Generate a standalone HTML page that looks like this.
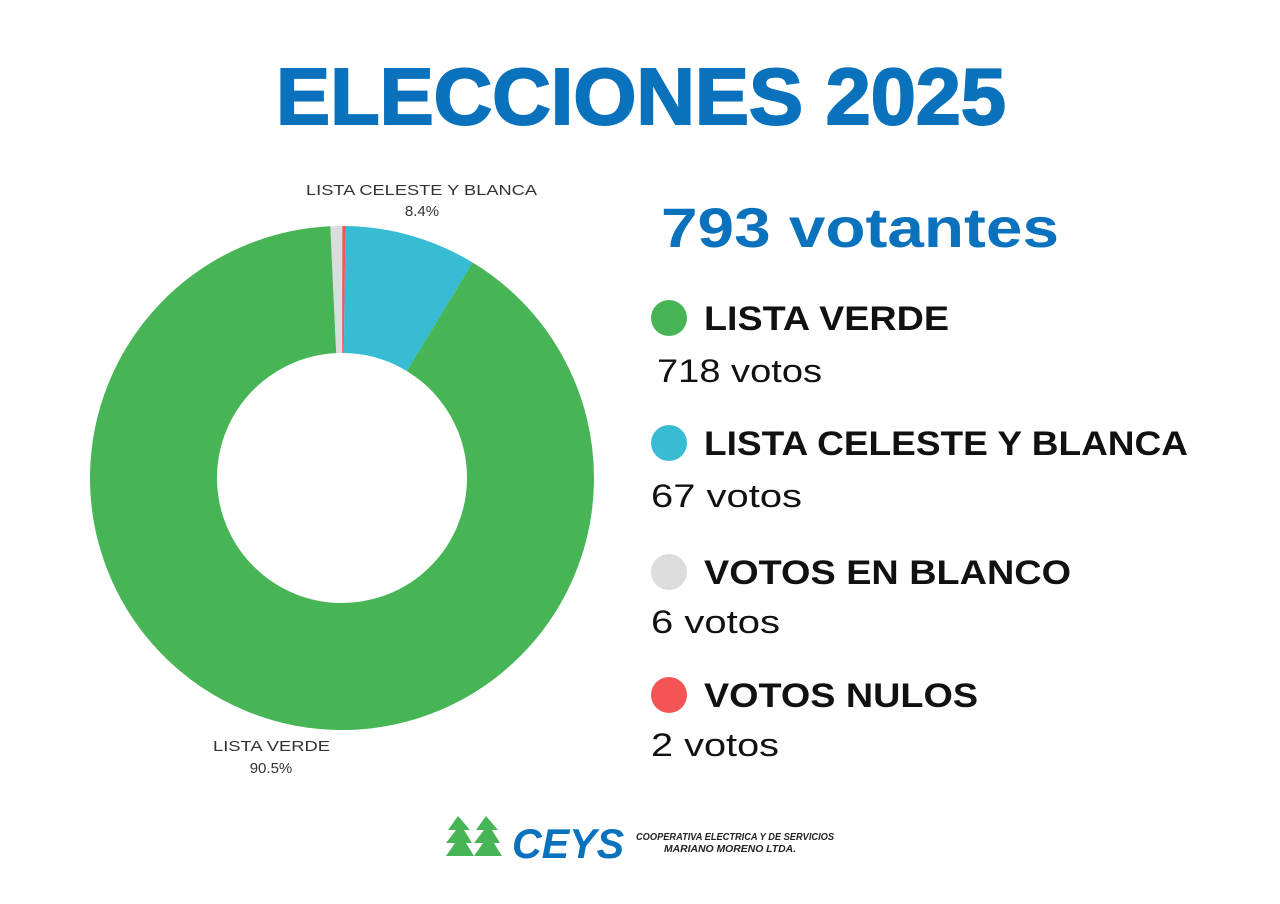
<!DOCTYPE html>
<html><head><meta charset="utf-8"><style>html,body{margin:0;padding:0;background:#fff}svg{display:block}</style></head>
<body>
<svg width="1280" height="904" viewBox="0 0 1280 904" xmlns="http://www.w3.org/2000/svg" font-family="Liberation Sans, sans-serif">
<rect width="1280" height="904" fill="#fff"/>
<text x="276" y="124" font-size="80" font-weight="bold" fill="#0a72bc" stroke="#0a72bc" stroke-width="2" textLength="730" lengthAdjust="spacingAndGlyphs">ELECCIONES 2025</text>
<g transform="translate(342,478) rotate(-89.2)" fill="none" stroke-width="127">
<circle r="188.5" stroke="#38bcd4" stroke-dasharray="100.1 1184.4"/>
<circle r="188.5" stroke="#47b555" stroke-dasharray="0 100.1 1072.4 1184.4"/>
<circle r="188.5" stroke="#dcdcdc" stroke-dasharray="0 1172.5 9 1184.4"/>
<circle r="188.5" stroke="#f45454" stroke-dasharray="0 1181.5 3 1184.4"/>
</g>
<text x="306" y="195" font-size="15" fill="#333" textLength="231" lengthAdjust="spacingAndGlyphs">LISTA CELESTE Y BLANCA</text>
<text x="422" y="216" font-size="15" fill="#333" text-anchor="middle">8.4%</text>
<text x="213" y="751" font-size="15" fill="#333" textLength="117" lengthAdjust="spacingAndGlyphs">LISTA VERDE</text>
<text x="271" y="773" font-size="15" fill="#333" text-anchor="middle">90.5%</text>
<text x="661" y="247" font-size="56" font-weight="bold" fill="#0a72bc" textLength="398" lengthAdjust="spacingAndGlyphs">793 votantes</text>
<circle cx="669" cy="318" r="18" fill="#47b555"/>
<text x="704" y="330" font-size="34" font-weight="bold" fill="#111" textLength="245" lengthAdjust="spacingAndGlyphs">LISTA VERDE</text>
<text x="657" y="382" font-size="32" fill="#111" textLength="165" lengthAdjust="spacingAndGlyphs">718 votos</text>
<circle cx="669" cy="443" r="18" fill="#38bcd4"/>
<text x="704" y="455" font-size="34" font-weight="bold" fill="#111" textLength="484" lengthAdjust="spacingAndGlyphs">LISTA CELESTE Y BLANCA</text>
<text x="651" y="507" font-size="32" fill="#111" textLength="151" lengthAdjust="spacingAndGlyphs">67 votos</text>
<circle cx="669" cy="572" r="18" fill="#dcdcdc"/>
<text x="704" y="584" font-size="34" font-weight="bold" fill="#111" textLength="367" lengthAdjust="spacingAndGlyphs">VOTOS EN BLANCO</text>
<text x="651" y="633" font-size="32" fill="#111" textLength="129" lengthAdjust="spacingAndGlyphs">6 votos</text>
<circle cx="669" cy="695" r="18" fill="#f45454"/>
<text x="704" y="707" font-size="34" font-weight="bold" fill="#111" textLength="274" lengthAdjust="spacingAndGlyphs">VOTOS NULOS</text>
<text x="651" y="756" font-size="32" fill="#111" textLength="128" lengthAdjust="spacingAndGlyphs">2 votos</text>
<g fill="#47b555">
<polygon points="458,816 448,830 456,830 446,843 455,843 446,856 474,856 466,843 472,843 464,830 470,830"/>
<polygon points="486,816 476,830 484,830 474,843 483,843 474,856 502,856 494,843 500,843 492,830 498,830"/>
</g>
<text x="512" y="858" font-size="42" font-weight="bold" font-style="italic" fill="#0a72bc" textLength="112" lengthAdjust="spacingAndGlyphs">CEYS</text>
<text x="636" y="840" font-size="10" font-weight="bold" font-style="italic" fill="#222" textLength="198" lengthAdjust="spacingAndGlyphs">COOPERATIVA ELECTRICA Y DE SERVICIOS</text>
<text x="664" y="852" font-size="10" font-weight="bold" font-style="italic" fill="#222" textLength="132" lengthAdjust="spacingAndGlyphs">MARIANO MORENO LTDA.</text>
</svg>
</body></html>
